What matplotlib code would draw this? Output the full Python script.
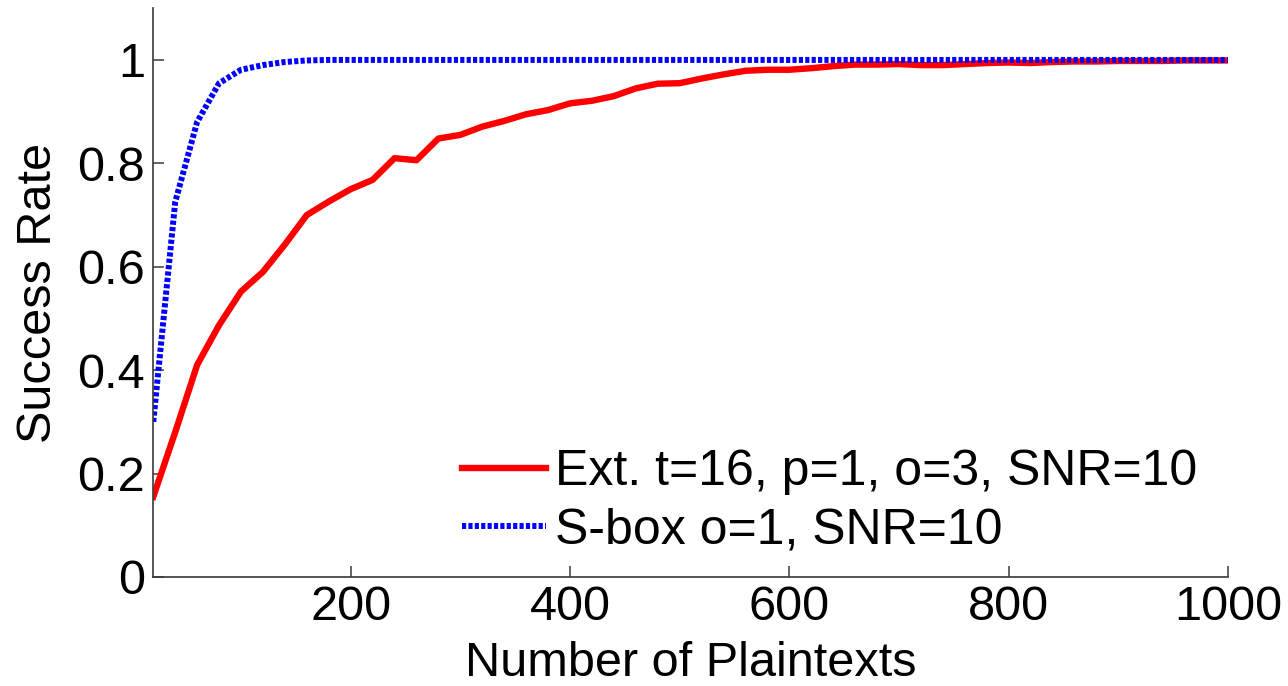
import numpy as np
import matplotlib
matplotlib.use("Agg")
import matplotlib.pyplot as plt
from matplotlib.ticker import FormatStrFormatter

plt.rcParams['font.family'] = ['Liberation Sans', 'DejaVu Sans']
plt.rcParams['lines.scale_dashes'] = False

# number of plaintexts used in the attack
n_pt = np.arange(20, 1001, 20)

# extended attack, t=16, p=1, o=3, SNR=10
sr_ext = [0.155, 0.28, 0.41, 0.487, 0.552, 0.59, 0.643, 0.70, 0.726, 0.75,
          0.768, 0.81, 0.806, 0.848, 0.855, 0.871, 0.882, 0.895, 0.903, 0.916,
          0.921, 0.930, 0.945, 0.954, 0.955, 0.964, 0.972, 0.979, 0.981, 0.981,
          0.984, 0.988, 0.991, 0.991, 0.992, 0.990, 0.990, 0.992, 0.994, 0.995,
          0.994, 0.996, 0.997, 0.997, 0.998, 0.998, 0.998, 0.999, 0.999, 0.999]

# S-box output attack, o=1, SNR=10
sr_sbox = [0.30, 0.725, 0.88, 0.955, 0.981, 0.990, 0.996, 0.999] + [1.0] * 42

labels = ['Ext. t=16, p=1, o=3, SNR=10', 'S-box o=1, SNR=10']

fig = plt.figure(figsize=(12.88, 6.86), dpi=100)
ax = fig.add_axes([0.119, 0.159, 0.8344, 0.829])

ax.plot(n_pt, sr_ext, color='#ff0000', lw=4.6, solid_joinstyle='round',
        label=labels[0])
ax.plot(n_pt, sr_sbox, color='#0000ff', lw=4.3, dashes=(3.0, 1.6),
        dash_capstyle='butt', label=labels[1])

ax.set_xlim(20, 1000)
ax.set_ylim(0, 1.1)
ax.set_xticks([200, 400, 600, 800, 1000])
ax.set_yticks([0, 0.2, 0.4, 0.6, 0.8, 1])
ax.yaxis.set_major_formatter(FormatStrFormatter('%g'))

for s in ['top', 'right']:
    ax.spines[s].set_visible(False)
for s in ['left', 'bottom']:
    ax.spines[s].set_color('#3a3a3a')
    ax.spines[s].set_linewidth(1.2)

ax.tick_params(direction='in', length=8, width=1.1, color='#3a3a3a',
               labelsize=35, pad=6)

ax.set_xlabel('Number of Plaintexts', fontsize=35, labelpad=8)
ax.set_ylabel('Success Rate', fontsize=35, labelpad=12)

leg = ax.legend(loc='upper left', bbox_to_anchor=(462 / 1288, 1 - 449 / 686),
                bbox_transform=fig.transFigure, frameon=False, fontsize=36,
                handlelength=1.68, handletextpad=0.18, labelspacing=0.24,
                borderpad=0, borderaxespad=0)

fig.savefig('out.png', dpi=100)
